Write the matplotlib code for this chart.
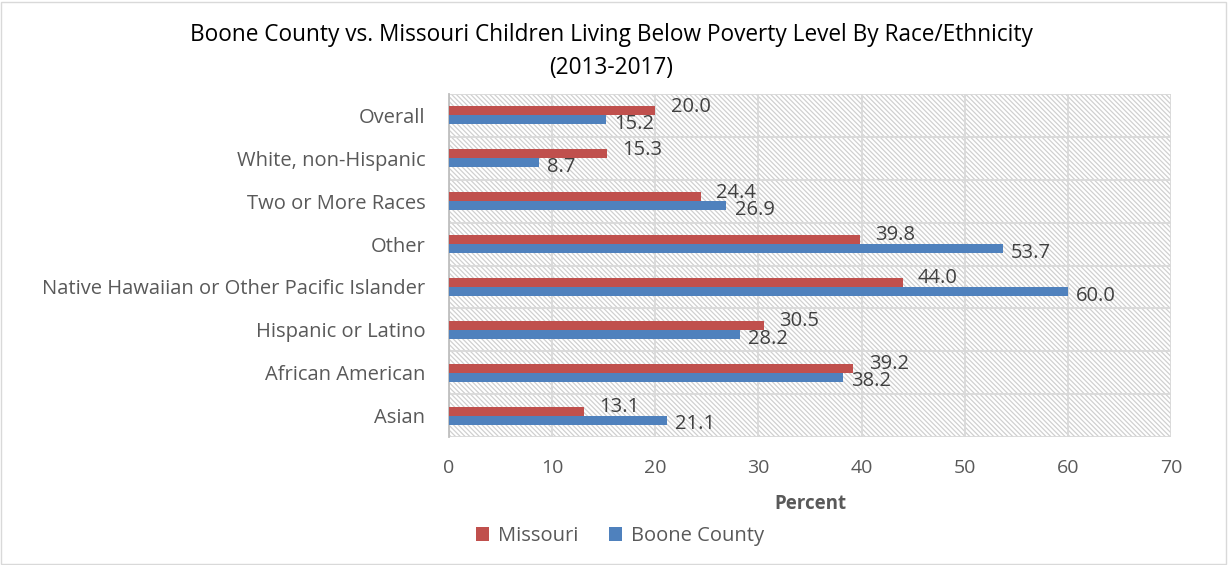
import numpy as np
import matplotlib.pyplot as plt
from matplotlib.patches import Rectangle

# Data (top to bottom as shown in the chart)
categories = ["Overall", "White, non-Hispanic", "Two or More Races", "Other",
              "Native Hawaiian or Other Pacific Islander", "Hispanic or Latino",
              "African American", "Asian"]
missouri = [20.0, 15.3, 24.4, 39.8, 44.0, 30.5, 39.2, 13.1]
boone = [15.2, 8.7, 26.9, 53.7, 60.0, 28.2, 38.2, 21.1]

red = "#C0504D"
blue = "#4F81BD"
grid_col = "#D9D9D9"
text_col = "#404040"

plt.rcParams['font.family'] = ['Open Sans', 'DejaVu Sans']
plt.rcParams['hatch.linewidth'] = 0.9
plt.rcParams['hatch.color'] = "#D0D0D0"

fig = plt.figure(figsize=(12.28, 5.65), dpi=100)
ax = fig.add_axes([0.3656, 0.2265, 0.5880, 0.6071])

# hatched plot background
ax.add_patch(Rectangle((0, 0), 1, 1, transform=ax.transAxes, facecolor="white",
                       hatch="\\\\\\\\\\\\\\", edgecolor="#D0D0D0", lw=0, zorder=0))

y = np.arange(len(categories))
h = 0.21
ax.barh(y - h / 2, missouri, height=h, color=red, zorder=3, label="Missouri")
ax.barh(y + h / 2, boone, height=h, color=blue, zorder=3, label="Boone County")

for yi, v in zip(y, missouri):
    ax.annotate(f"{v:.1f}", (v, yi - h / 2), xytext=(11, 3), textcoords="offset points",
                ha="left", va="center", fontsize=14.5, color=text_col, zorder=4)
for yi, v in zip(y, boone):
    ax.annotate(f"{v:.1f}", (v, yi + h / 2), xytext=(6, -3), textcoords="offset points",
                ha="left", va="center", fontsize=14.5, color=text_col, zorder=4)

ax.set_xlim(0, 70)
ax.set_ylim(len(categories) - 0.5, -0.5)
ax.set_xticks(np.arange(0, 71, 10))
ax.set_yticks(y)
ax.set_yticklabels(categories)
ax.set_yticks(np.arange(-0.5, len(categories), 1), minor=True)
ax.tick_params(axis="y", which="both", length=0, labelsize=14.5, colors="#595959", pad=17)
ax.tick_params(axis="x", which="both", length=0, labelsize=14, colors="#595959", pad=16)

ax.grid(axis="x", which="major", color=grid_col, lw=1.3, zorder=1)
ax.grid(axis="y", which="minor", color=grid_col, lw=1.3, zorder=1)
for s in ["top", "right", "bottom"]:
    ax.spines[s].set_visible(False)
ax.spines["left"].set_color("#BFBFBF")
ax.spines["left"].set_linewidth(1.3)

ax.set_xlabel("Percent", fontsize=13.5, fontweight="bold", color="#595959", labelpad=12)
fig.suptitle("Boone County vs. Missouri Children Living Below Poverty Level By Race/Ethnicity\n(2013-2017)",
             fontsize=16.3, color="black", y=0.96, x=0.498, linespacing=1.55)

ax.legend(loc="center", bbox_to_anchor=(0.505, 0.051), bbox_transform=fig.transFigure, ncol=2,
          frameon=False, fontsize=14.5, handlelength=0.65, handleheight=0.65, columnspacing=1.5,
          labelcolor="#595959", handletextpad=0.45)

fig.add_artist(Rectangle((0.001, 0.002), 0.997, 0.995, transform=fig.transFigure,
                         fill=False, edgecolor=grid_col, lw=1))

fig.savefig("out.png", dpi=100)
